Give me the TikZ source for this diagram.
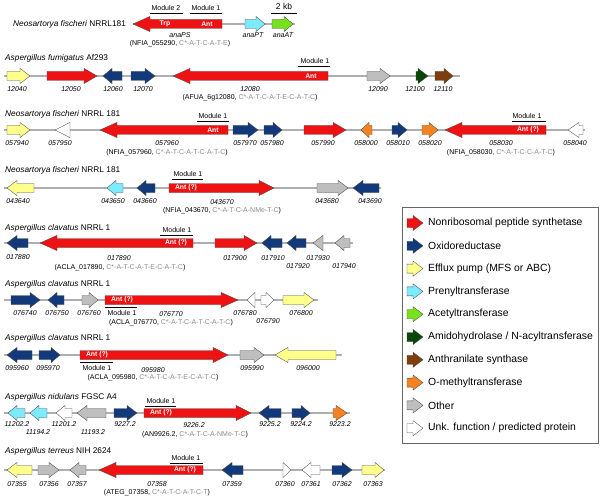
\documentclass[tikz,border=0pt]{standalone}
\usepackage{fontspec}
\setmainfont{Liberation Sans}
\definecolor{nrps}{RGB}{238,18,18}
\definecolor{oxido}{RGB}{18,58,122}
\definecolor{efflux}{RGB}{255,255,140}
\definecolor{prenyl}{RGB}{125,235,255}
\definecolor{acetyl}{RGB}{120,225,30}
\definecolor{amido}{RGB}{8,70,10}
\definecolor{anthr}{RGB}{125,62,12}
\definecolor{omethyl}{RGB}{245,130,30}
\definecolor{other}{RGB}{190,190,190}
\definecolor{unk}{RGB}{255,255,255}
\definecolor{pgray}{RGB}{140,140,140}
\definecolor{bbgray}{RGB}{175,175,175}
\newcommand\bh{4.5}
\newcommand\hh{7.6}
% right-pointing gene: x1, x2, y, colour, head length
\newcommand\geneR[5]{\filldraw[gene, fill=#4] (#1,#3-\bh) -- (#2-#5,#3-\bh) -- (#2-#5,#3-\hh) -- (#2,#3) -- (#2-#5,#3+\hh) -- (#2-#5,#3+\bh) -- (#1,#3+\bh) -- cycle;}
% left-pointing gene: x1 (tip), x2, y, colour, head length
\newcommand\geneL[5]{\filldraw[gene, fill=#4] (#2,#3-\bh) -- (#1+#5,#3-\bh) -- (#1+#5,#3-\hh) -- (#1,#3) -- (#1+#5,#3+\hh) -- (#1+#5,#3+\bh) -- (#2,#3+\bh) -- cycle;}
\newcommand\cstr[1]{\textcolor{pgray}{#1}}
\tikzset{
  gene/.style={draw=black!70, line width=0.35pt, line join=miter},
  bb/.style={draw=bbgray, line width=1.1pt},
  glab/.style={font=\fontsize{7}{8}\selectfont\itshape, inner sep=0pt},
  spec/.style={font=\fontsize{8.3}{9.5}\selectfont, anchor=west, inner sep=0pt},
  paren/.style={font=\fontsize{7}{8}\selectfont, inner sep=0pt},
  modl/.style={font=\fontsize{7}{8}\selectfont, inner sep=0pt},
  intext/.style={font=\fontsize{6.8}{7}\selectfont\bfseries, text=white, inner sep=0pt},
  legtext/.style={font=\fontsize{10.4}{12}\selectfont, anchor=west, inner sep=0pt},
  modline/.style={line width=0.9pt}
}
\begin{document}
\begin{tikzpicture}[x=1pt,y=-1pt]
\useasboundingbox (0,0) rectangle (602,500);
\fill[white] (0,0) rectangle (602,500);

% ---------------- Row 1
\node[spec] (s1) at (13,24) {\textit{Neosartorya fischeri} NRRL181};
\draw[bb] (133,24) -- (295,24);
\geneL{133}{222}{24}{nrps}{17}
\node[intext] (t1a) at (165,24) {Trp};
\node[intext] (t1b) at (207,24) {Ant};
\node[modl] (m1a) at (166,8) {Module 2};
\draw[modline] (150,13) -- (183,13);
\node[modl] (m1b) at (206,8) {Module 1};
\draw[modline] (190,13) -- (222,13);
\geneR{245}{265}{24}{prenyl}{9}
\geneR{272}{293}{24}{acetyl}{9}
\node[font=\fontsize{8.5}{9}\selectfont, inner sep=0pt] (kb) at (284,6) {2 kb};
\draw[modline] (271,13) -- (297,13);
\node[glab] (l1a) at (180,35) {anaPS};
\node[paren] (p1) at (180,44) {(NFIA\_055290, \cstr{C*-A-T-C-A-T-E})};
\node[glab] (l1b) at (253,35) {anaPT};
\node[glab] (l1c) at (283,35) {anaAT};

% ---------------- Row 2
\node[spec] (s2) at (5,58) {\textit{Aspergillus fumigatus} Af293};
\draw[bb] (4,76) -- (460,76);
\geneR{7}{30}{76}{efflux}{10}
\geneR{47}{97}{76}{nrps}{13}
\geneL{103}{122}{76}{oxido}{9}
\geneR{131}{155}{76}{oxido}{10}
\geneL{173}{328}{76}{nrps}{17}
\node[intext] (t2) at (311,76) {Ant};
\node[modl] (m2) at (315,61) {Module 1};
\draw[modline] (298,66) -- (330,66);
\geneR{367}{390}{76}{other}{10}
\geneR{416}{428}{76}{amido}{10}
\geneR{435}{453}{76}{anthr}{9}
\node[glab] (l2a) at (17,89) {12040};
\node[glab] (l2b) at (71,89) {12050};
\node[glab] (l2c) at (113,89) {12060};
\node[glab] (l2d) at (143,89) {12070};
\node[glab] (l2e) at (250,89) {12080};
\node[paren] (p2) at (250,98) {(AFUA\_6g12080, \cstr{C*-A-T-C-A-T-E-C-A-T-C})};
\node[glab] (l2f) at (378,89) {12090};
\node[glab] (l2g) at (415,89) {12100};
\node[glab] (l2h) at (443,89) {12110};

% ---------------- Row 3
\node[spec] (s3) at (5,114) {\textit{Neosartorya fischeri} NRRL 181};
\draw[bb] (4,130) -- (585,130);
\geneR{7}{30}{130}{efflux}{10}
\geneL{55}{70}{130}{unk}{15}
\geneL{100}{228}{130}{nrps}{17}
\node[intext] (t3a) at (213,130) {Ant};
\node[modl] (m3a) at (213,116) {Module 1};
\draw[modline] (197,121) -- (229,121);
\geneR{233}{258}{130}{oxido}{10}
\geneR{264}{282}{130}{oxido}{9}
\geneR{304}{346}{130}{nrps}{13}
\geneL{361}{372}{130}{omethyl}{8}
\geneR{392}{407}{130}{oxido}{9}
\geneR{422}{438}{130}{omethyl}{9}
\geneL{445}{546}{130}{nrps}{17}
\node[intext] (t3b) at (528,130) {Ant (?)};
\node[modl] (m3b) at (527,116) {Module 1};
\draw[modline] (512,121) -- (546,121);
\geneL{568}{583}{130}{unk}{11}
\node[glab] (l3a) at (17,143) {057940};
\node[glab] (l3b) at (60,143) {057950};
\node[glab] (l3c) at (167,143) {057960};
\node[paren] (p3a) at (167,153) {(NFIA\_057960, \cstr{C*-A-T-C-A-T-C-A-T-C})};
\node[glab] (l3d) at (245,143) {057970};
\node[glab] (l3e) at (272,143) {057980};
\node[glab] (l3f) at (323,143) {057990};
\node[glab] (l3g) at (366,143) {058000};
\node[glab] (l3h) at (398,143) {058010};
\node[glab] (l3i) at (430,143) {058020};
\node[glab] (l3j) at (501,143) {058030};
\node[paren] (p3b) at (501,153) {(NFIA\_058030, \cstr{C*-A-T-C-C-A-T-C})};
\node[glab] (l3k) at (575,143) {058040};

% ---------------- Row 4
\node[spec] (s4) at (5,170) {\textit{Neosartorya fischeri} NRRL 181};
\draw[bb] (4,188) -- (381,188);
\geneL{7}{34}{188}{efflux}{10}
\geneL{107}{123}{188}{prenyl}{9}
\geneL{137}{155}{188}{oxido}{9}
\geneR{169}{274}{188}{nrps}{15}
\node[intext] (t4) at (186,188) {Ant (?)};
\node[modl] (m4) at (188,174) {Module 1};
\draw[modline] (172,179) -- (203,179);
\geneR{317}{348}{188}{other}{10}
\geneL{353}{379}{188}{oxido}{10}
\node[glab] (l4a) at (18,201) {043640};
\node[glab] (l4b) at (113,201) {043650};
\node[glab] (l4c) at (145,201) {043660};
\node[glab] (l4d) at (222,202) {043670};
\node[paren] (p4) at (222,211) {(NFIA\_043670, \cstr{C*-A-T-C-A-NMe-T-C})};
\node[glab] (l4e) at (327,201) {043680};
\node[glab] (l4f) at (370,201) {043690};

% ---------------- Row 5
\node[spec] (s5) at (5,228) {\textit{Aspergillus clavatus} NRRL 1};
\draw[bb] (4,243) -- (353,243);
\geneL{7}{28}{243}{oxido}{10}
\geneL{40}{193}{243}{nrps}{17}
\node[intext] (t5) at (176,243) {Ant (?)};
\node[modl] (m5) at (177,230) {Module 1};
\draw[modline] (160,235) -- (193,235);
\geneR{215}{257}{243}{nrps}{13}
\geneL{262}{282}{243}{oxido}{9}
\geneL{287}{306}{243}{oxido}{9}
\geneL{313}{323}{243}{other}{10}
\geneL{335}{350}{243}{other}{9}
\node[glab] (l5a) at (18,257) {017880};
\node[glab] (l5b) at (119,258) {017890};
\node[paren] (p5) at (120,268) {(ACLA\_017890, \cstr{C*-A-T-C-A-T-E-C-A-T-C})};
\node[glab] (l5c) at (235,258) {017900};
\node[glab] (l5d) at (273,258) {017910};
\node[glab] (l5e) at (298,266) {017920};
\node[glab] (l5f) at (318,258) {017930};
\node[glab] (l5g) at (344,266) {017940};

% ---------------- Row 6
\node[spec] (s6) at (5,284) {\textit{Aspergillus clavatus} NRRL 1};
\draw[bb] (4,300) -- (318,300);
\geneR{11}{40}{300}{oxido}{10}
\geneL{48}{64}{300}{oxido}{9}
\geneR{82}{98}{300}{other}{9}
\geneR{105}{238}{300}{nrps}{17}
\node[intext] (t6) at (122,300) {Ant (?)};
\draw[modline] (105,307.5) -- (137,307.5);
\node[modl] (m6) at (122,313) {Module 1};
\geneL{247}{255}{300}{unk}{8}
\geneR{261}{274}{300}{unk}{8}
\geneR{283}{314}{300}{efflux}{10}
\node[glab] (l6a) at (25,313) {076740};
\node[glab] (l6b) at (57,313) {076750};
\node[glab] (l6c) at (89,313) {076760};
\node[glab] (l6d) at (171,314) {076770};
\node[paren] (p6) at (171,323) {(ACLA\_076770, \cstr{C*-A-T-C-A-T-C-A-T-C})};
\node[glab] (l6e) at (245,313) {076780};
\node[glab] (l6f) at (268,321) {076790};
\node[glab] (l6g) at (301,313) {076800};

% ---------------- Row 7
\node[spec] (s7) at (5,338) {\textit{Aspergillus clavatus} NRRL 1};
\draw[bb] (4,355) -- (342,355);
\geneL{7}{32}{355}{oxido}{10}
\geneR{39}{60}{355}{oxido}{9}
\geneR{80}{228}{355}{nrps}{15}
\node[intext] (t7) at (97,355) {Ant (?)};
\draw[modline] (80,362.5) -- (113,362.5);
\node[modl] (m7) at (97,368) {Module 1};
\geneR{240}{264}{355}{other}{10}
\geneL{275}{336}{355}{efflux}{13}
\node[glab] (l7a) at (17,368) {095960};
\node[glab] (l7b) at (48,368) {095970};
\node[glab] (l7c) at (153,370) {095980};
\node[paren] (p7) at (153,378) {(ACLA\_095980, \cstr{C*-A-T-C-A-T-E-C-A-T-C})};
\node[glab] (l7d) at (252,368) {095990};
\node[glab] (l7e) at (308,368) {096000};

% ---------------- Row 8
\node[spec] (s8) at (5,397) {\textit{Aspergillus nidulans} FGSC A4};
\draw[bb] (4,413) -- (350,413);
\geneL{8}{25}{413}{prenyl}{9}
\geneL{30}{47}{413}{prenyl}{9}
\geneL{56}{72}{413}{unk}{9}
\geneL{77}{106}{413}{other}{10}
\geneR{114}{137}{413}{oxido}{10}
\geneR{144}{251}{413}{nrps}{15}
\node[intext] (t8) at (161,413) {Ant (?)};
\node[modl] (m8) at (161,401) {Module 1};
\draw[modline] (145,406.5) -- (176,406.5);
\geneL{259}{281}{413}{oxido}{10}
\geneR{292}{310}{413}{oxido}{9}
\geneR{333}{347}{413}{omethyl}{11}
\node[glab] (l8a) at (17,424) {11202.2};
\node[glab] (l8b) at (38,432) {11194.2};
\node[glab] (l8c) at (64,424) {11201.2};
\node[glab] (l8d) at (93,432) {11193.2};
\node[glab] (l8e) at (125,424) {9227.2};
\node[glab] (l8f) at (194,425) {9226.2};
\node[paren] (p8) at (195,435) {(AN9926.2, \cstr{C*-A-T-C-A-NMe-T-C})};
\node[glab] (l8g) at (270,424) {9225.2};
\node[glab] (l8h) at (301,424) {9224.2};
\node[glab] (l8i) at (340,424) {9223.2};

% ---------------- Row 9
\node[spec] (s9) at (5,451) {\textit{Aspergillus terreus} NIH 2624};
\draw[bb] (4,470) -- (385,470);
\geneL{7}{32}{470}{efflux}{10}
\geneR{38}{59}{470}{other}{10}
\geneL{70}{86}{470}{other}{9}
\geneL{99}{203}{470}{nrps}{17}
\node[intext] (t9) at (185,470) {Ant (?)};
\node[modl] (m9) at (186,458) {Module 1};
\draw[modline] (170,463) -- (203,463);
\geneL{222}{243}{470}{oxido}{10}
\geneR{283}{291}{470}{unk}{8}
\geneL{302}{320}{470}{unk}{9}
\geneR{332}{352}{470}{oxido}{10}
\geneR{362}{384}{470}{efflux}{9}
\node[glab] (l9a) at (17,484) {07355};
\node[glab] (l9b) at (49,484) {07356};
\node[glab] (l9c) at (77,484) {07357};
\node[glab] (l9d) at (157,484) {07358};
\node[paren] (p9) at (157,493) {(ATEG\_07358, \cstr{C*-A-T-C-A-T-C-T})};
\node[glab] (l9e) at (232,484) {07359};
\node[glab] (l9f) at (285,484) {07360};
\node[glab] (l9g) at (311,484) {07361};
\node[glab] (l9h) at (342,484) {07362};
\node[glab] (l9i) at (373,484) {07363};

% ---------------- Legend
\draw[black!60, line width=0.6pt] (402,207) rectangle (598,443);
\geneR{407}{423}{223}{nrps}{10}
\node[legtext] (g1) at (428,223) {Nonribosomal peptide synthetase};
\geneR{407}{423}{245.8}{oxido}{10}
\node[legtext] (g2) at (428,245.8) {Oxidoreductase};
\geneR{407}{423}{268.6}{efflux}{10}
\node[legtext] (g3) at (428,268.6) {Efflux pump (MFS or ABC)};
\geneR{407}{423}{291.4}{prenyl}{10}
\node[legtext] (g4) at (428,291.4) {Prenyltransferase};
\geneR{407}{423}{314.2}{acetyl}{10}
\node[legtext] (g5) at (428,314.2) {Acetyltransferase};
\geneR{407}{423}{337}{amido}{10}
\node[legtext] (g6) at (428,337) {Amidohydrolase / N-acyltransferase};
\geneR{407}{423}{359.8}{anthr}{10}
\node[legtext] (g7) at (428,359.8) {Anthranilate synthase};
\geneR{407}{423}{382.6}{omethyl}{10}
\node[legtext] (g8) at (428,382.6) {O-methyltransferase};
\geneR{407}{423}{405.4}{other}{10}
\node[legtext] (g9) at (428,405.4) {Other};
\geneR{407}{423}{428.2}{unk}{10}
\node[legtext] (g10) at (428,428.2) {Unk. function / predicted protein};
\end{tikzpicture}
\end{document}
